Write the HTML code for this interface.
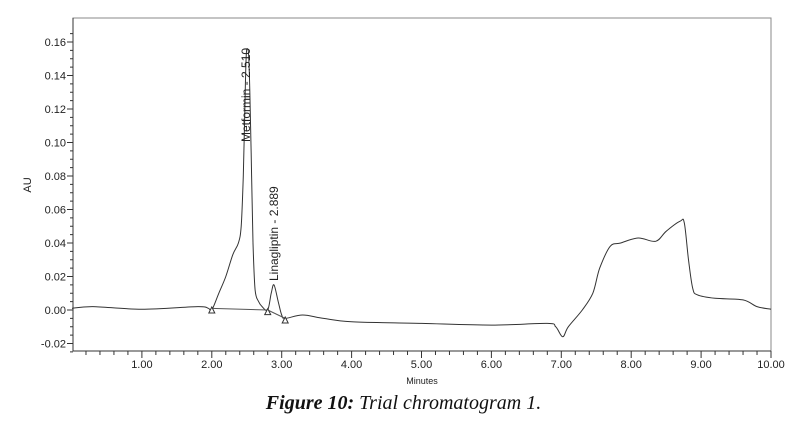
<!DOCTYPE html>
<html><head><meta charset="utf-8"><style>
body{margin:0;background:#fff;width:807px;height:427px;overflow:hidden}
svg{position:absolute;left:0;top:0}
.cap{position:absolute;left:0;width:807px;top:392px;text-align:center;font-family:"Liberation Serif",serif;font-size:20px;font-style:italic;color:#111}
</style></head><body>
<svg id="s" width="807" height="427" font-family="Liberation Sans, sans-serif" font-size="11" fill="#222"></svg>
<div class="cap"><b>Figure 10:</b> Trial chromatogram 1.</div>
<script>
const X=m=>72+m*69.9, Y=v=>310-v*1675;
let h='';
h+='<rect x="73" y="18" width="698" height="333" fill="none" stroke="#888" stroke-width="1"/>';
h+='<line x1="73" y1="18" x2="73" y2="351" stroke="#333"/><line x1="73" y1="351" x2="771" y2="351" stroke="#333"/>';
for(let v=-0.025;v<=0.17;v+=0.005){let y=Y(v);let major=Math.abs(Math.round(v*1000)%20)<1;h+=`<line x1="${major?67:70}" y1="${y}" x2="73" y2="${y}" stroke="#333"/>`;}
for(let v=-0.02;v<=0.161;v+=0.02){let y=Y(v);h+=`<text x="66" y="${y+4}" text-anchor="end">${v.toFixed(2)}</text>`;}
for(let m=0.2;m<=10.01;m+=0.2){let x=X(m);let major=Math.abs(m-Math.round(m))<0.01;h+=`<line x1="${x}" y1="351" x2="${x}" y2="${major?358:355}" stroke="#333"/>`;if(major)h+=`<text x="${x}" y="368" text-anchor="middle">${m.toFixed(2)}</text>`;}
h+='<text x="422" y="384" text-anchor="middle" font-size="9">Minutes</text>';
h+='<text transform="translate(31,185) rotate(-90)" text-anchor="middle">AU</text>';
const p=[[0,0.001],[0.3,0.002],[1,0.0005],[1.8,0.002],[1.95,0.001],[2.0,0],[2.1,0.01],[2.2,0.02],[2.3,0.033],[2.38,0.04],[2.42,0.05],[2.45,0.08],[2.47,0.115],[2.49,0.15],[2.51,0.156],[2.53,0.15],[2.55,0.12],[2.57,0.08],[2.59,0.04],[2.62,0.012],[2.67,0.005],[2.72,0.002],[2.8,0],[2.85,0.01],[2.89,0.015],[2.95,0.005],[3.0,-0.003],[3.05,-0.005],[3.3,-0.003],[3.6,-0.005],[4,-0.007],[5,-0.008],[6,-0.009],[6.8,-0.008],[6.92,-0.01],[7.02,-0.016],[7.1,-0.01],[7.3,0],[7.45,0.01],[7.55,0.025],[7.7,0.038],[7.85,0.04],[8.1,0.043],[8.35,0.041],[8.5,0.047],[8.7,0.053],[8.76,0.052],[8.82,0.03],[8.88,0.013],[8.95,0.009],[9.2,0.007],[9.6,0.006],[9.8,0.002],[10,0.0005]];
const P=p.map(q=>[X(q[0]),Y(q[1])]);
let d='M'+P[0].join(',');
for(let i=0;i<P.length-1;i++){const a=P[Math.max(0,i-1)],b=P[i],c=P[i+1],e=P[Math.min(P.length-1,i+2)];
const c1=[b[0]+(c[0]-a[0])/6,b[1]+(c[1]-a[1])/6],c2=[c[0]-(e[0]-b[0])/6,c[1]-(e[1]-b[1])/6];
d+=`C${c1[0].toFixed(1)},${c1[1].toFixed(1)} ${c2[0].toFixed(1)},${c2[1].toFixed(1)} ${c[0].toFixed(1)},${c[1].toFixed(1)}`;}
h+=`<path fill="none" stroke="#333" stroke-width="1" d="${d}"/>`;
h+=`<line x1="${X(2)}" y1="${Y(0.001)}" x2="${X(2.8)}" y2="${Y(0)}" stroke="#555"/><line x1="${X(2.8)}" y1="${Y(0)}" x2="${X(3.05)}" y2="${Y(-0.005)}" stroke="#555"/>`;
for(const [m,v] of [[2,0],[2.8,-0.001],[3.05,-0.006]]){let x=X(m),y=Y(v);h+=`<polygon points="${x-3},${y+3} ${x+3},${y+3} ${x},${y-3}" fill="#fff" stroke="#333"/>`;}
h+=`<text transform="translate(250,142) rotate(-90)" font-size="12">Metformin - 2.510</text>`;
h+=`<text transform="translate(278,281) rotate(-90)" font-size="12">Linagliptin - 2.889</text>`;
document.getElementById('s').innerHTML=h;
</script>
</body></html>
